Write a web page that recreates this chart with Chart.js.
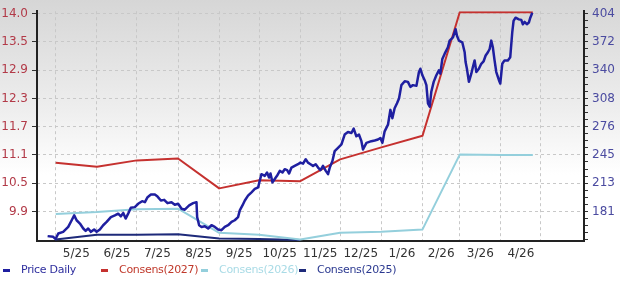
<!DOCTYPE html>
<html>
<head>
<meta charset="utf-8">
<script src="https://cdn.jsdelivr.net/npm/chart.js@4.4.1/dist/chart.umd.min.js"></script>
<style>
  html, body { margin: 0; padding: 0; }
  body {
    width: 620px; height: 281px; position: relative; overflow: hidden;
    background: linear-gradient(to bottom, #d6d6d6 0px, #eeeeee 110px, #ffffff 175px);
  }
  #grafikon { position: absolute; left: 0; top: 0; }
  #legenda { position: absolute; left: 0; top: 262px; width: 620px; height: 16px;
             font: 11px "DejaVu Sans", sans-serif; letter-spacing: -0.3px; }
  .stavka { position: absolute; top: 0; white-space: nowrap; line-height: 16px; }
  .crta { display: inline-block; width: 7px; height: 3px; vertical-align: middle; margin-right: 11px; }
</style>
</head>
<body>
<canvas id="grafikon" width="620" height="281"></canvas>
<div id="legenda"></div>
<script>
// x values are days counted from 1 May 2025
const monthStarts = [0, 31, 61, 92, 123, 153, 184, 214, 245, 276, 304, 335, 365];
const monthLabels = ["5/25", "6/25", "7/25", "8/25", "9/25", "10/25", "11/25", "12/25", "1/26", "2/26", "3/26", "4/26"];

const leftTickLabels = ["9.9", "10.5", "11.1", "11.7", "12.3", "12.9", "13.5", "14.0"];
const rightTickLabels = ["181", "213", "245", "276", "308", "340", "372", "404"];

const priceDays = [-6.1,-1.9,-0.1,1.9,5.6,9.4,12.0,13.9,15.7,18.2,
  20.7,22.5,24.4,26.5,28.9,30.8,33.2,35.7,38.3,41.5,
  44.5,47.0,49.0,50.8,52.6,54.5,56.5,59.5,62.0,65.0,
  67.1,69.1,71.6,74.6,76.6,79.1,81.6,84.1,87.1,89.6,
  92.1,94.7,97.1,100.4,103.4,105.9,106.4,107.9,109.7,112.2,
  114.7,117.2,119.7,122.2,124.7,127.2,129.7,132.3,134.7,137.2,
  138.5,140.5,142.3,144.7,147.3,149.8,152.3,153.5,154.8,157.3,
  159.0,160.5,161.6,163.1,164.8,166.5,168.6,170.6,172.3,174.1,
  175.6,177.4,179.8,182.3,184.1,186.1,188.1,189.8,191.7,193.6,
  195.6,197.4,199.2,201.1,203.2,204.9,206.2,208.2,209.9,212.4,
  215.0,217.4,219.9,222.5,224.2,226.2,228.2,230.0,231.2,233.8,
  237.5,240.0,242.5,244.3,245.8,247.5,250.0,251.8,253.3,255.0,
  256.8,258.3,260.1,262.6,265.0,266.8,268.8,271.4,273.3,274.4,
  275.9,277.6,278.9,280.1,281.4,282.6,284.4,286.4,288.3,289.4,
  290.9,292.6,295.1,296.4,298.9,300.9,301.9,303.4,305.9,307.7,
  308.4,309.4,310.9,312.7,313.9,315.2,316.5,318.4,320.2,321.9,
  323.5,325.2,326.5,327.7,328.9,330.2,331.5,333.5,334.5,336.0,
  337.7,340.2,342.0,343.5,344.5,346.0,348.5,350.3,351.5,352.8,
  354.5,356.0,357.1,358.6];
const priceValues = [153.1,152.3,149.8,156.1,157.9,163.5,171.0,176.5,171.0,167.3,
  161.7,159.0,161.7,157.9,160.6,157.9,160.6,165.4,169.1,174.6,
  176.5,178.4,175.4,179.1,172.9,178.4,185.1,185.8,189.6,192.5,
  191.4,197.0,200.0,200.0,197.7,193.3,194.0,190.3,191.4,188.5,
  189.6,184.0,182.9,187.7,190.3,191.4,174.6,165.4,163.5,164.3,
  161.7,165.4,163.5,160.6,159.8,163.5,165.4,169.1,171.0,174.6,
  182.1,187.7,193.3,198.8,202.5,206.3,208.1,215.6,223.0,221.1,
  224.8,219.2,223.7,213.7,217.5,221.1,226.7,224.8,228.6,227.5,
  223.7,230.4,232.3,234.2,236.0,234.9,239.8,236.0,234.2,232.3,
  234.2,230.4,227.5,232.3,226.7,223.0,230.4,237.9,249.0,252.7,
  256.5,267.6,270.5,269.4,274.3,265.7,267.6,260.2,250.9,258.3,
  260.2,261.0,262.1,263.8,258.3,271.3,278.8,295.5,286.1,297.3,
  302.9,308.4,323.4,327.8,327.1,321.5,323.4,322.6,338.2,341.9,
  334.5,329.0,323.4,302.9,299.2,315.9,327.1,334.5,340.1,336.3,
  353.0,358.6,366.1,373.6,377.2,386.5,379.1,373.6,371.7,360.5,
  349.4,341.9,327.1,336.3,343.8,351.3,338.2,341.9,347.5,350.1,
  356.8,360.5,364.2,373.6,366.1,351.3,338.2,329.0,325.2,347.5,
  351.3,351.3,354.9,382.8,395.9,399.5,397.6,397.0,392.1,394.7,
  392.1,394.0,399.5,405.0];

const consensDays = [0, 31, 61, 92, 123, 153, 184, 214, 245, 276, 304, 335, 359];
const consens2027 = [10.91, 10.83, 10.96, 11.00, 10.38, 10.55, 10.53, 10.98, 11.23, 11.47, 14.03, 14.03, 14.03];
const consens2026 = [9.85, 9.89, 9.95, 9.96, 9.46, 9.42, 9.32, 9.46, 9.48, 9.53, 11.08, 11.07, 11.07];
const consens2025 = [9.32, 9.42, 9.42, 9.43, 9.34, 9.33, 9.31];

const seriesNames = ["Price Daily", "Consens(2027)", "Consens(2026)", "Consens(2025)"];
const lineColors = ["#1f1fa0", "#c5312f", "#94cfdc", "#1e2a7a"];
const legendTextColors = ["#2e2e9e", "#c0392b", "#a9dbe6", "#2b3990"];

// ticks: left and right axes share the same grid rows
const leftStep = (parseFloat(leftTickLabels[7]) - parseFloat(leftTickLabels[0])) / 7;
const leftTicks = leftTickLabels.map((t, i) => ({ value: parseFloat(leftTickLabels[0]) + i * leftStep }));

const rightFirst = parseFloat(rightTickLabels[0]);
const rightMinor = (parseFloat(rightTickLabels[7]) - rightFirst) / 7 / 4;
const rightTicks = [];
for (let k = -4; k <= 28; k++) {
    rightTicks.push({ value: rightFirst + k * rightMinor });
}

const xTicks = [];
monthStarts.forEach((d, i) => {
    xTicks.push({ value: d, start: true });
    if (i < monthLabels.length) {
        xTicks.push({ value: (d + monthStarts[i + 1]) / 2, label: monthLabels[i] });
    }
});

function toPoints(days, values) {
    return values.map((v, i) => ({ x: days[i], y: v }));
}

const gridGray = "#c8c8c8";
const axisDark = "#222222";

Chart.defaults.font.family = "'DejaVu Sans', sans-serif";
Chart.defaults.font.size = 12;

new Chart(document.getElementById("grafikon").getContext("2d"), {
    type: "line",
    data: {
        datasets: [
            { label: seriesNames[0], data: toPoints(priceDays, priceValues), yAxisID: "y2",
              borderColor: lineColors[0], borderWidth: 2.5 },
            { label: seriesNames[1], data: toPoints(consensDays, consens2027), yAxisID: "y",
              borderColor: lineColors[1], borderWidth: 2 },
            { label: seriesNames[2], data: toPoints(consensDays, consens2026), yAxisID: "y",
              borderColor: lineColors[2], borderWidth: 2 },
            { label: seriesNames[3], data: toPoints(consensDays, consens2025), yAxisID: "y",
              borderColor: lineColors[3], borderWidth: 2 }
        ]
    },
    options: {
        responsive: false,
        animation: false,
        events: [],
        layout: { padding: { top: 8, bottom: 18, left: 0, right: 0 } },
        elements: { point: { radius: 0 }, line: { tension: 0, fill: false, borderJoinStyle: "round" } },
        plugins: { legend: { display: false }, tooltip: { enabled: false } },
        scales: {
            x: {
                type: "linear",
                min: -14.1,
                max: 397.5,
                afterBuildTicks: scale => { scale.ticks = xTicks.map(t => ({ value: t.value })); },
                afterFit: scale => { scale.height = 22; },
                ticks: {
                    autoSkip: false, maxRotation: 0, padding: 6, color: "#333333",
                    callback: (value, index) => xTicks[index].label || ""
                },
                grid: {
                    drawTicks: false,
                    color: ctx => (xTicks[ctx.index] && xTicks[ctx.index].start) ? gridGray : "rgba(0,0,0,0)",
                    lineWidth: 1
                },
                border: { color: axisDark, width: 2, dash: [3, 3] }
            },
            y: {
                position: "left",
                min: 9.29,
                max: 14.05,
                afterBuildTicks: scale => { scale.ticks = leftTicks.map(t => ({ value: t.value })); },
                afterFit: scale => { scale.width = 37; },
                ticks: { color: "#b23a48", padding: 4, callback: (value, index) => leftTickLabels[index] },
                grid: { drawOnChartArea: false, tickLength: 5, tickColor: "#333333" },
                border: { color: axisDark, width: 2 }
            },
            y2: {
                position: "right",
                min: 147.6,
                max: 406.8,
                afterBuildTicks: scale => { scale.ticks = rightTicks.map(t => ({ value: t.value })); },
                afterFit: scale => { scale.width = 36; },
                ticks: {
                    autoSkip: false, color: "#4b4ba0", padding: 4,
                    callback: (value, index) => (index >= 4 && index % 4 === 0) ? rightTickLabels[index / 4 - 1] : ""
                },
                grid: {
                    color: ctx => (ctx.index >= 4 && ctx.index % 4 === 0) ? gridGray : "rgba(0,0,0,0)",
                    tickLength: 4,
                    tickColor: "#333333"
                },
                border: { color: axisDark, width: 2, dash: [3, 3] }
            }
        }
    }
});

// legenda ispod grafa
const legendLeft = [3, 101, 201, 299];
const legenda = document.getElementById("legenda");
seriesNames.forEach((name, i) => {
    const stavka = document.createElement("div");
    stavka.className = "stavka";
    stavka.style.left = legendLeft[i] + "px";
    stavka.style.color = legendTextColors[i];
    stavka.innerHTML = `<span class="crta" style="background:${lineColors[i]}"></span>${name}`;
    legenda.appendChild(stavka);
});
</script>
</body>
</html>
